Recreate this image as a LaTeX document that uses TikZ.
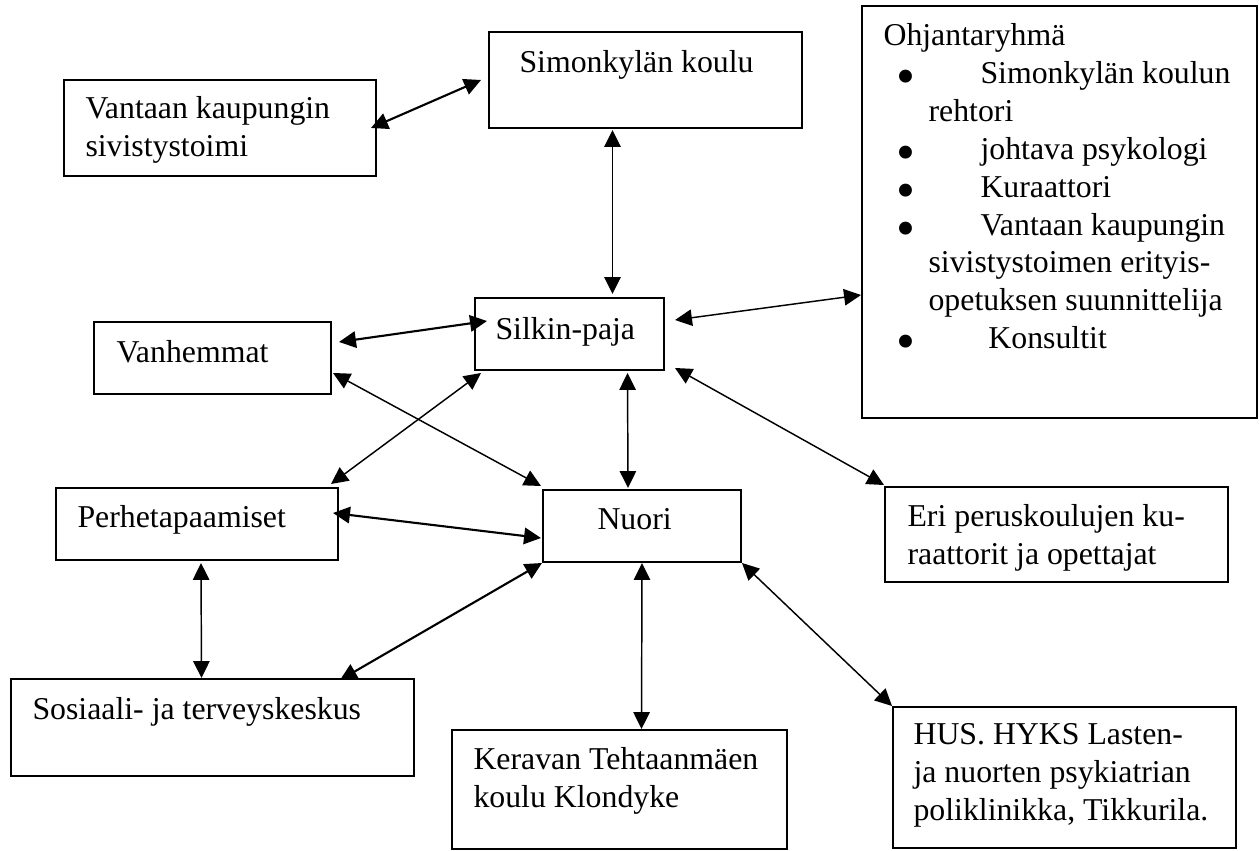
\documentclass[tikz,border=0pt]{standalone}
\usepackage{fontspec}
\setmainfont{Liberation Serif}
\usetikzlibrary{arrows.meta,calc,fit}
\newcommand{\bulitem}[1]{\hspace*{4.9pt}\makebox[31.7pt][l]{\smash{\raisebox{-4.2pt}{\scalebox{1.7}{\textbullet}}}}#1}
\newcommand{\contline}[1]{\hspace*{17pt}#1}

\begin{document}
\begin{tikzpicture}[x=0.3774pt,y=-0.3774pt,
  box/.style={draw=black, line width=0.75pt, inner sep=0pt},
  txt/.style={anchor=north west, inner sep=0pt, align=left, font=\fontsize{12}{14.3}\selectfont},
  link/.style={{Triangle[length=6.4pt,width=6.2pt]}-{Triangle[length=6.4pt,width=6.2pt]}, line width=0.55pt},
  heavy/.style={line width=0.8pt}]
\useasboundingbox (0,0) rectangle (1260,851);
% boxes
\node [box, fit={(64,80) (376,176)}] (vantaa) {};
\node [box, fit={(489,32) (802,128)}] (simon) {};
\node [box, fit={(862,6) (1257,418)}] (ohj) {};
\node [box, fit={(475,298) (664,370)}] (silkin) {};
\node [box, fit={(94,322) (331,394)}] (vanh) {};
\node [box, fit={(56,488) (338,560)}] (perhe) {};
\node [box, fit={(543,490) (741,562)}] (nuori) {};
\node [box, fit={(885,487) (1228,582)}] (eri) {};
\node [box, fit={(11,679) (414,776)}] (sos) {};
\node [box, fit={(452,730) (787,849)}] (kerava) {};
\node [box, fit={(893,707) (1236,848)}] (hus) {};
% texts
\node [txt] (vantaa-t) at (85,96) {Vantaan kaupungin\\sivistystoimi};
\node [txt] (simon-t) at (519,50) {Simonkylän koulu};
\node [txt] (ohj-t) at (883,23) {Ohjantaryhmä\\
  \bulitem{Simonkylän koulun}\\
  \contline{rehtori}\\
  \bulitem{johtava psykologi}\\
  \bulitem{Kuraattori}\\
  \bulitem{Vantaan kaupungin}\\
  \contline{sivistystoimen erityis-}\\
  \contline{opetuksen suunnittelija}\\
  \bulitem{\hspace*{3pt}Konsultit}};
\node [txt] (silkin-t) at (495,317) {Silkin-paja};
\node [txt] (vanh-t) at (116,340) {Vanhemmat};
\node [txt] (perhe-t) at (77,505) {Perhetapaamiset};
\node [txt] (nuori-t) at (597,508) {Nuori};
\node [txt] (eri-t) at (907,504) {Eri peruskoulujen ku-\\raattorit ja opettajat};
\node [txt] (sos-t) at (32,697) {Sosiaali- ja terveyskeskus};
\node [txt] (kerava-t) at (473,747) {Keravan Tehtaanmäen\\koulu Klondyke};
\node [txt] (hus-t) at (913,723) {HUS. HYKS Lasten-\\ja nuorten psykiatrian\\poliklinikka, Tikkurila.};
% connectors
\draw [link, heavy] ($(vantaa.east)+(-6,0)$) to ($(simon.west)+(-7,0)$);
\draw [link] ($(simon.south)+(-33,1)$) to ($(silkin.north)+(43,-3)$);
\draw [link] ($(silkin.east)+(10,-14)$) to ($(ohj.west)+(0,83)$);
\draw [link, heavy] ($(vanh.east)+(7,-16)$) to ($(silkin.west)+(13,-13)$);
\draw [link] ($(silkin.south west)+(7,2)$) to ($(perhe.north east)+(-8,-3)$);
\draw [link] ($(vanh.south east)+(1,-22)$) to ($(nuori.north west)+(-1,-3)$);
\draw [link] ($(silkin.south)+(58,2)$) to ($(nuori.north)+(-14,-1)$);
\draw [link] ($(silkin.south east)+(10,-3)$) to ($(eri.north west)+(0,-1)$);
\draw [link, heavy] ($(perhe.east)+(-6,-11)$) to ($(nuori.west)+(-1,12)$);
\draw [link] ($(perhe.south)+(4,2)$) to ($(sos.north)+(-11,0)$);
\draw [link, heavy] (nuori.south west) to ($(sos.north east)+(-75,2)$);
\draw [link] (nuori.south) to ($(kerava.north)+(22,0)$);
\draw [link] (nuori.south east) to (hus.north west);
\end{tikzpicture}
\end{document}
